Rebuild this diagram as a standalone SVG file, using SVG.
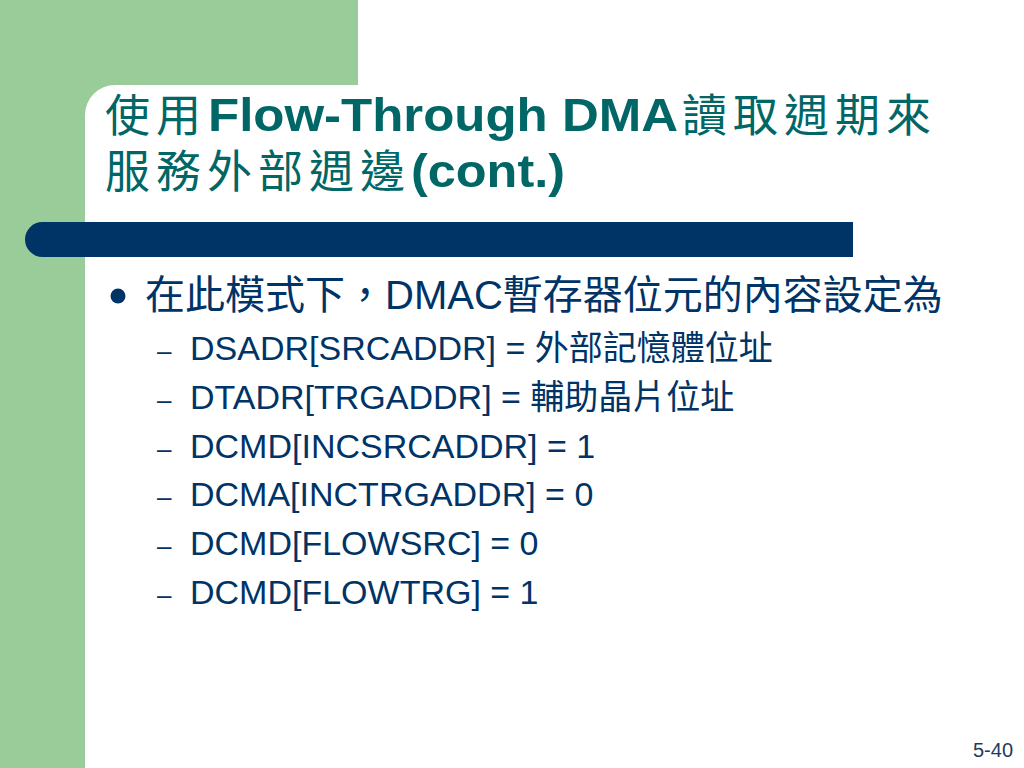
<svg xmlns="http://www.w3.org/2000/svg" width="1024" height="768" viewBox="0 0 1024 768">
  <style>
    .latin { font-family: "Liberation Sans", sans-serif; font-weight: bold; font-size: 47px; fill: #006666; }
    .cjk { font-family: "Noto Sans CJK TC", sans-serif; font-weight: normal; font-size: 45px; letter-spacing: 6px; fill: #006666; }
    .body { font-family: "Liberation Sans", "Noto Sans CJK TC", sans-serif; fill: #003366; }
    .l1 { font-size: 40px; }
    .l2 { font-size: 34px; }
    .dash { font-family: "Liberation Sans", sans-serif; font-size: 26px; fill: #003366; }
  </style>
  <rect x="0" y="0" width="1024" height="768" fill="#ffffff"/>
  <g id="background">
    <path d="M0,0 H358 V85 H115 A30,30 0 0 0 85,115 V768 H0 Z" fill="#99CC99"/>
  </g>
  <g id="title">
    <text class="cjk" x="105" y="132">使用</text>
    <text class="latin" x="208" y="131" textLength="470" lengthAdjust="spacingAndGlyphs">Flow-Through DMA</text>
    <text class="cjk" x="682" y="132">讀取週期來</text>
    <text class="cjk" x="105" y="188">服務外部週邊</text>
    <text class="latin" x="411" y="187" textLength="154" lengthAdjust="spacingAndGlyphs">(cont.)</text>
  </g>
  <g id="bar">
    <path d="M42.5,222 H853 V257 H42.5 A17.5,17.5 0 0 1 42.5,222 Z" fill="#003366"/>
  </g>
  <g id="body">
    <circle cx="118" cy="296" r="7.5" fill="#003366"/>
    <text class="body l1" x="145" y="309">在此模式下，DMAC暫存器位元的內容設定為</text>
    <text class="dash" x="157" y="360">–</text>
    <text class="body l2" x="190" y="360">DSADR[SRCADDR] = 外部記憶體位址</text>
    <text class="dash" x="157" y="409">–</text>
    <text class="body l2" x="190" y="409">DTADR[TRGADDR] = 輔助晶片位址</text>
    <text class="dash" x="157" y="458">–</text>
    <text class="body l2" x="190" y="458">DCMD[INCSRCADDR] = 1</text>
    <text class="dash" x="157" y="506">–</text>
    <text class="body l2" x="190" y="506">DCMA[INCTRGADDR] = 0</text>
    <text class="dash" x="157" y="555">–</text>
    <text class="body l2" x="190" y="555">DCMD[FLOWSRC] = 0</text>
    <text class="dash" x="157" y="604">–</text>
    <text class="body l2" x="190" y="604">DCMD[FLOWTRG] = 1</text>
  </g>
  <g id="page-number">
    <text x="1013" y="757" text-anchor="end" font-family="Liberation Sans, sans-serif" font-size="20" fill="#1F3A5F">5-40</text>
  </g>
</svg>
